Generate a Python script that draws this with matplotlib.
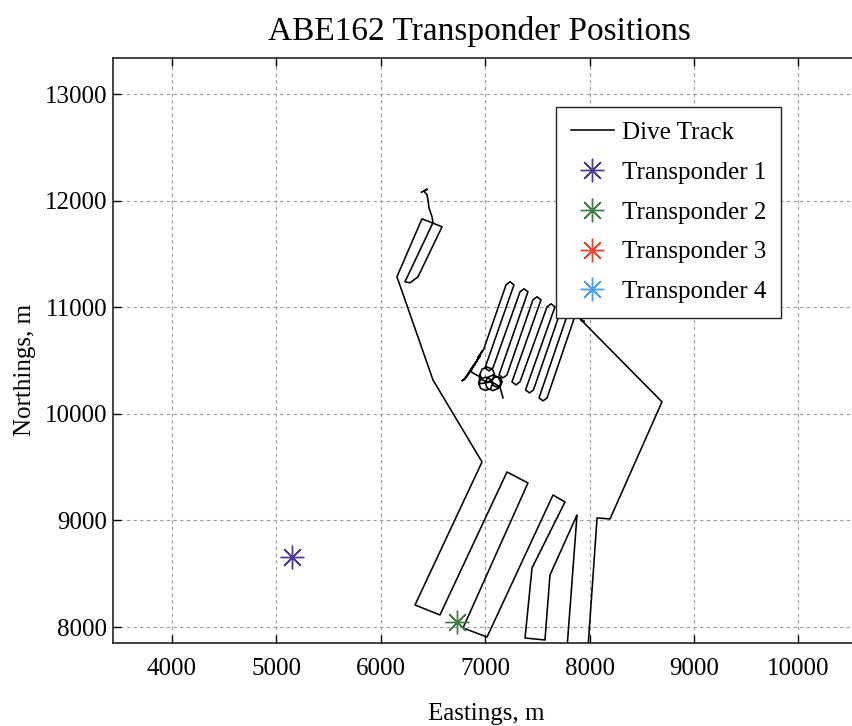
import numpy as np
import matplotlib.pyplot as plt

plt.rcParams['font.family'] = ['Liberation Serif', 'DejaVu Serif']
plt.rcParams['font.size'] = 18

# ---- data (eastings / northings in m) ----
# descent hook + narrow first lane + long leg down
lane_e = [6390, 6445, 6415, 6443, 6452, 6462, 6491, 6500,
          6232, 6280, 6357, 6587, 6395, 6155]
lane_n = [12080, 12110, 12090, 12057, 12010, 11934, 11850, 11794,
          11240, 11230, 11287, 11756, 11831, 11287]

# southern lanes and the return leg up the east side
south_e = [6500, 6970, 6328, 6567, 7209, 7410, 6788, 7018, 7650, 7765,
           7449, 7382, 7573, 7621, 7880, 7784, 7985, 8072, 8196, 8694,
           7937, 7918, 7950]
south_n = [10319, 9549, 8207, 8113, 9455, 9352, 7991, 7906, 9239, 9174,
           8554, 7897, 7878, 8488, 9052, 7800, 7800, 9024, 9014, 10113,
           10864, 10880, 10868]

# small lawnmower survey
survey_e = [7861, 7593, 7554, 7516, 7794, 7756, 7717, 7463, 7425, 7387,
            7669, 7631, 7593, 7334, 7296, 7257, 7535, 7497, 7458, 7209,
            7171, 7133, 7410, 7372, 7334, 7075, 7037, 6999, 7276, 7238,
            7200, 6984]
survey_n = [10920, 10150, 10122, 10150, 10948, 10977, 10948, 10225, 10197, 10225,
            11005, 11033, 11005, 10301, 10272, 10301, 11071, 11099, 11071, 10366,
            10338, 10366, 11146, 11174, 11146, 10432, 10404, 10432, 11211, 11240,
            11211, 10601]

# nav jumps and descent spiral
spiral_e = [6930, 6955, 6900, 6870, 6850, 6810, 6778, 6800, 6840, 6880,
            6920, 6970, 6950, 6900, 6860, 6890, 6951,
            6950, 6970, 7020, 7070, 7090, 7070, 7020, 6970, 6950,
            6940, 6958, 7005, 7052, 7070, 7052, 7005, 6958, 6940,
            7000, 7022, 7075, 7128, 7150, 7128, 7075, 7022, 7000,
            7063, 7078, 7113, 7148, 7163, 7148, 7113, 7078, 7063,
            7142, 7171]
spiral_n = [10530, 10545, 10470, 10430, 10400, 10340, 10310, 10320, 10370, 10440,
            10500, 10590, 10550, 10460, 10400, 10380, 10348,
            10370, 10420, 10440, 10420, 10370, 10320, 10300, 10320, 10370,
            10282, 10326, 10345, 10326, 10282, 10238, 10220, 10238, 10282,
            10291, 10342, 10365, 10342, 10291, 10240, 10218, 10240, 10291,
            10301, 10336, 10351, 10336, 10301, 10266, 10251, 10266, 10301,
            10254, 10150]

track_e = lane_e + south_e + survey_e + spiral_e
track_n = lane_n + south_n + survey_n + spiral_n

tp_names = ['Transponder 1', 'Transponder 2', 'Transponder 3', 'Transponder 4']
tp_e = [5150, 6730, 11800, 11300]
tp_n = [8655, 8045, 9300, 12500]
tp_colors = ['#4b3a9c', '#3f7f46', '#f2402c', '#4c9cf2']

x_ticks = [4000, 5000, 6000, 7000, 8000, 9000, 10000]
y_ticks = [8000, 9000, 10000, 11000, 12000, 13000]

# ---- figure ----
fig = plt.figure(figsize=(8.52, 7.26), dpi=100)
ax = fig.add_axes([113/852, 83/726, 787/852, 585/726])

ax.plot(track_e, track_n, color='black', lw=1.15, label='Dive Track')
for e, n, c, name in zip(tp_e, tp_n, tp_colors, tp_names):
    ax.plot(e, n, marker=(8, 2, 0), ms=17, mew=1.0, color=c,
            linestyle='none', label=name)

ax.set_xlim(3435, 10974)
ax.set_ylim(7850, 13340)
ax.set_xticks(x_ticks)
ax.set_yticks(y_ticks)
ax.grid(True, color='#9a9a9a', linestyle=(0, (3, 3)), lw=0.8)
ax.tick_params(direction='in', length=6, width=1, top=True, right=True)
ax.tick_params(axis='x', pad=11)
ax.tick_params(axis='y', pad=4)
for s in ax.spines.values():
    s.set_linewidth(1.2)
    s.set_color('#222222')

ax.set_title('ABE162 Transponder Positions', fontsize=24, x=0.465, y=1.0, pad=13)
ax.set_xlabel('Eastings, m')
ax.set_ylabel('Northings, m')
ax.xaxis.set_label_coords(0.474, -0.102)
ax.yaxis.set_label_coords(-0.098, 0.467)

leg = ax.legend(loc='upper left', bbox_to_anchor=(0.563, 0.916), borderaxespad=0,
                fancybox=False, framealpha=1, edgecolor='#222222',
                handlelength=1.75, handletextpad=0.3, labelspacing=0.69,
                borderpad=0.58, fontsize=18)
leg.get_frame().set_linewidth(1.0)

fig.savefig('out.png', dpi=100)
